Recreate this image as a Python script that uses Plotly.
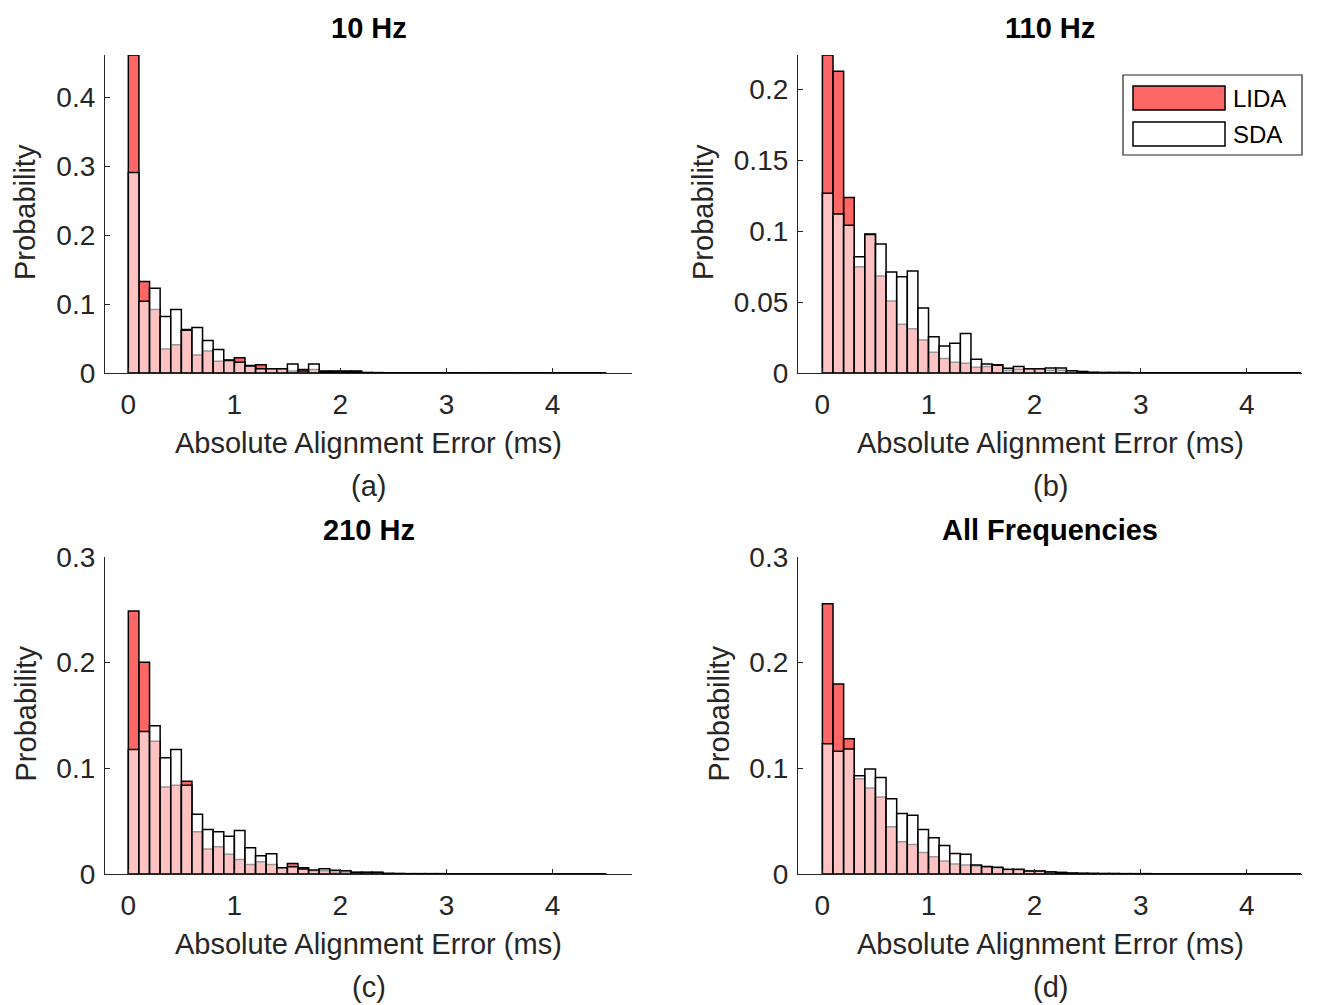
import numpy as np
import plotly.graph_objects as go

# ---------------- data ----------------
bin_width = 0.1
n_bins = 45  # bins from 0 to 4.5 ms

lida_10hz = [0.4616, 0.133, 0.092, 0.035, 0.041, 0.063, 0.026, 0.032, 0.017, 0.019,
             0.022, 0.011, 0.012, 0.006, 0.006, 0.003, 0.005, 0.005, 0.003, 0.003,
             0.003, 0.003, 0.0006, 0.0005, 0.0004, 0.0004, 0.0004, 0.0003, 0.0003, 0.0003,
             0.0003, 0.0003, 0.0002, 0.0002, 0.0002, 0.0002, 0.0002, 0.0002, 0.0002, 0.0002,
             0.0002, 0.0002, 0.0002, 0.0002, 0.0002]
sda_10hz = [0.291, 0.104, 0.123, 0.082, 0.092, 0.062, 0.066, 0.047, 0.034, 0.018,
            0.0155, 0.010, 0.006, 0.006, 0.006, 0.013, 0.003, 0.013, 0.002, 0.002,
            0.002, 0.002, 0.0006, 0.0005, 0.0004, 0.0004, 0.0004, 0.0003, 0.0003, 0.0003,
            0.0003, 0.0003, 0.0002, 0.0002, 0.0002, 0.0002, 0.0002, 0.0002, 0.0002, 0.0002,
            0.0002, 0.0002, 0.0002, 0.0002, 0.0002]

lida_110hz = [0.224, 0.2126, 0.1237, 0.0749, 0.098, 0.0683, 0.0507, 0.0343, 0.0312, 0.0232,
              0.0146, 0.0103, 0.0075, 0.0068, 0.004, 0.0045, 0.0058, 0.002, 0.0026, 0.003,
              0.003, 0.002, 0.002, 0.0015, 0.001, 0.0004, 0.0003, 0.0003, 0.0003, 0.0002,
              0.0002, 0.0002, 0.0002, 0.0002, 0.0002, 0.0002, 0.0002, 0.0002, 0.0002, 0.0002,
              0.0002, 0.0002, 0.0002, 0.0002, 0.0002]
sda_110hz = [0.1267, 0.112, 0.104, 0.0819, 0.0975, 0.0908, 0.0711, 0.0678, 0.0718, 0.0458,
             0.0256, 0.019, 0.0209, 0.0279, 0.0096, 0.0063, 0.0055, 0.0033, 0.0045, 0.003,
             0.003, 0.0035, 0.0035, 0.0016, 0.001, 0.0004, 0.0003, 0.0003, 0.0003, 0.0002,
             0.0002, 0.0002, 0.0002, 0.0002, 0.0002, 0.0002, 0.0002, 0.0002, 0.0002, 0.0002,
             0.0002, 0.0002, 0.0002, 0.0002, 0.0002]

lida_210hz = [0.2488, 0.2004, 0.1257, 0.0823, 0.0839, 0.0877, 0.0399, 0.0236, 0.0258, 0.0188,
              0.0138, 0.0091, 0.0116, 0.0091, 0.006, 0.010, 0.006, 0.003, 0.003, 0.002,
              0.0018, 0.0015, 0.0015, 0.0015, 0.0005, 0.0004, 0.0003, 0.0003, 0.0003, 0.0003,
              0.0002, 0.0002, 0.0002, 0.0002, 0.0002, 0.0002, 0.0002, 0.0002, 0.0002, 0.0002,
              0.0002, 0.0002, 0.0002, 0.0002, 0.0002]
sda_210hz = [0.1178, 0.1348, 0.1404, 0.110, 0.1178, 0.0839, 0.0566, 0.0421, 0.0399, 0.0358,
             0.0412, 0.0248, 0.0173, 0.0192, 0.0059, 0.0069, 0.0047, 0.0038, 0.005, 0.0035,
             0.003, 0.0016, 0.0016, 0.0016, 0.0005, 0.0004, 0.0003, 0.0003, 0.0003, 0.0003,
             0.0002, 0.0002, 0.0002, 0.0002, 0.0002, 0.0002, 0.0002, 0.0002, 0.0002, 0.0002,
             0.0002, 0.0002, 0.0002, 0.0002, 0.0002]

lida_all = [0.2557, 0.1797, 0.1279, 0.0902, 0.0814, 0.0729, 0.0446, 0.0305, 0.028, 0.0204,
            0.0163, 0.0122, 0.0094, 0.0085, 0.0075, 0.0065, 0.006, 0.004, 0.004, 0.0025,
            0.0025, 0.002, 0.0015, 0.0008, 0.0006, 0.0005, 0.0004, 0.0004, 0.0003, 0.0003,
            0.0003, 0.0002, 0.0002, 0.0002, 0.0002, 0.0002, 0.0002, 0.0002, 0.0002, 0.0002,
            0.0002, 0.0002, 0.0002, 0.0002, 0.0002]
sda_all = [0.1232, 0.1162, 0.1184, 0.0930, 0.0993, 0.0914, 0.0713, 0.0572, 0.0556, 0.0421,
           0.0342, 0.027, 0.0195, 0.0188, 0.0085, 0.007, 0.0063, 0.0044, 0.0044, 0.0028,
           0.0028, 0.002, 0.0015, 0.0008, 0.0006, 0.0005, 0.0004, 0.0004, 0.0003, 0.0003,
           0.0003, 0.0002, 0.0002, 0.0002, 0.0002, 0.0002, 0.0002, 0.0002, 0.0002, 0.0002,
           0.0002, 0.0002, 0.0002, 0.0002, 0.0002]

panel_titles = ["10 Hz", "110 Hz", "210 Hz", "All Frequencies"]
panel_tags = ["(a)", "(b)", "(c)", "(d)"]
x_tick_vals = [0, 1, 2, 3, 4]
y_ticks_a = [0, 0.1, 0.2, 0.3, 0.4]
y_ticks_b = [0, 0.05, 0.1, 0.15, 0.2]
y_ticks_cd = [0, 0.1, 0.2, 0.3]
y_ticktext_b = ["0", "0.05", "0.1", "0.15", "0.2"]

series_names = ["LIDA", "SDA"]

# ---------------- layout helpers ----------------
# page body has an 8px margin: the figure is offset so it lines up with the window
OFF = 8
W, H = 1328 - 2 * OFF, 1005 - OFF
def px(x):
    return (x - OFF) / W
def py(y):
    return 1 - (y - OFF) / H

FONT = "Liberation Sans, Arial, sans-serif"
AX_COLOR = "#262626"
LIDA_FILL = "rgba(255,0,0,0.6)"
SDA_FILL = "rgba(255,255,255,0.6)"
TICK_SIZE = 28
LABEL_SIZE = 29

centers = (np.arange(n_bins) + 0.5) * bin_width

panels = [
    dict(lida=lida_10hz, sda=sda_10hz, xdom=(105, 632), ydom=(55, 373),
         xr=[-0.22, 4.75], yr=[0, max(lida_10hz)], yt=y_ticks_a, ytt=[str(v) if v else "0" for v in y_ticks_a],
         ylab_x=25),
    dict(lida=lida_110hz, sda=sda_110hz, xdom=(798, 1302), ydom=(55, 373),
         xr=[-0.23, 4.52], yr=[0, max(lida_110hz)], yt=y_ticks_b, ytt=y_ticktext_b,
         ylab_x=703),
    dict(lida=lida_210hz, sda=sda_210hz, xdom=(105, 632), ydom=(557, 874),
         xr=[-0.22, 4.75], yr=[0, 0.3], yt=y_ticks_cd, ytt=[str(v) if v else "0" for v in y_ticks_cd],
         ylab_x=25),
    dict(lida=lida_all, sda=sda_all, xdom=(798, 1302), ydom=(557, 874),
         xr=[-0.23, 4.52], yr=[0, 0.3], yt=y_ticks_cd, ytt=[str(v) if v else "0" for v in y_ticks_cd],
         ylab_x=718),
]

fig = go.Figure()
layout = dict(width=W, height=H, margin=dict(l=0, r=0, t=0, b=0, pad=0, autoexpand=False),
              paper_bgcolor="white", plot_bgcolor="white", barmode="overlay",
              showlegend=False, font=dict(family=FONT, color=AX_COLOR))
annotations = []
shapes = []

for i, p in enumerate(panels):
    k = "" if i == 0 else str(i + 1)
    xa, ya = "x" + k, "y" + k
    for vals, fill in ((p["lida"], LIDA_FILL), (p["sda"], SDA_FILL)):
        fig.add_trace(go.Bar(
            x=centers, y=vals, width=[bin_width] * n_bins,
            marker=dict(color=fill, line=dict(color="black", width=1.5)),
            xaxis=xa, yaxis=ya, hoverinfo="skip"))
    layout["xaxis" + k] = dict(
        domain=[px(p["xdom"][0]), px(p["xdom"][1])], anchor=ya, range=p["xr"], automargin=False,
        tickvals=x_tick_vals, ticktext=[str(v) for v in x_tick_vals],
        ticks="inside", ticklen=5, tickwidth=1, tickcolor=AX_COLOR,
        showline=True, linecolor=AX_COLOR, linewidth=1.2, showgrid=False, zeroline=False,
        tickfont=dict(size=TICK_SIZE, color=AX_COLOR, family=FONT), ticklabelstandoff=6)
    layout["yaxis" + k] = dict(
        domain=[py(p["ydom"][1]), py(p["ydom"][0])], anchor=xa, range=p["yr"], automargin=False,
        tickvals=p["yt"], ticktext=p["ytt"],
        ticks="inside", ticklen=5, tickwidth=1, tickcolor=AX_COLOR,
        showline=True, linecolor=AX_COLOR, linewidth=1.2, showgrid=False, zeroline=False,
        tickfont=dict(size=TICK_SIZE, color=AX_COLOR, family=FONT), ticklabelstandoff=3)

    xc = (p["xdom"][0] + p["xdom"][1]) / 2
    top, bot = p["ydom"]
    annotations.append(dict(text="<b>" + panel_titles[i] + "</b>", x=px(xc), y=py(top - 27),
                            xref="paper", yref="paper", showarrow=False, xanchor="center", yanchor="middle",
                            font=dict(size=LABEL_SIZE, color="black", family=FONT)))
    annotations.append(dict(text="Absolute Alignment Error (ms)", x=px(xc), y=py(bot + 70),
                            xref="paper", yref="paper", showarrow=False, xanchor="center", yanchor="middle",
                            font=dict(size=LABEL_SIZE, color=AX_COLOR, family=FONT)))
    annotations.append(dict(text=panel_tags[i], x=px(xc), y=py(bot + 113),
                            xref="paper", yref="paper", showarrow=False, xanchor="center", yanchor="middle",
                            font=dict(size=LABEL_SIZE, color=AX_COLOR, family=FONT)))
    annotations.append(dict(text="Probability", x=px(p["ylab_x"]), y=py((top + bot) / 2 - 2),
                            xref="paper", yref="paper", showarrow=False, xanchor="center", yanchor="middle",
                            textangle=-90, font=dict(size=LABEL_SIZE, color=AX_COLOR, family=FONT)))

# manual legend (top-right of panel b)
shapes.append(dict(type="rect", xref="paper", yref="paper", x0=px(1123), x1=px(1302), y0=py(155), y1=py(75),
                   line=dict(color=AX_COLOR, width=1.2), fillcolor="white", layer="above"))
for j, (name, fill, yc) in enumerate(zip(series_names, [LIDA_FILL, "white"], [98, 134])):
    shapes.append(dict(type="rect", xref="paper", yref="paper", x0=px(1133), x1=px(1225),
                       y0=py(yc + 12), y1=py(yc - 12),
                       line=dict(color="black", width=1.5), fillcolor=fill, layer="above"))
    annotations.append(dict(text=name, x=px(1231), y=py(yc), xref="paper", yref="paper",
                            showarrow=False, xanchor="left", yanchor="middle",
                            font=dict(size=24, color="black", family=FONT)))

layout["annotations"] = annotations
layout["shapes"] = shapes
fig.update_layout(**layout)
fig.write_html("out.html")
